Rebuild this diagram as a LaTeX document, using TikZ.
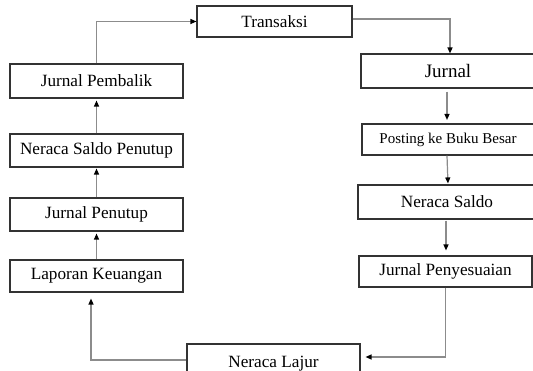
\documentclass[tikz,border=0pt]{standalone}
\usepackage{fontspec}
\setmainfont{Liberation Serif}
\usetikzlibrary{arrows.meta}
\begin{document}
\begin{tikzpicture}[x=1pt,y=-1pt,
  box/.style={draw=black!80,line width=1.1pt,rectangle,inner sep=0pt,
    font=\fontsize{17.2}{20}\selectfont},
  conn/.style={draw=black!45,line width=1.2pt,
    -{Triangle[length=6pt,width=5pt,color=black]}},
]
\useasboundingbox (0,0) rectangle (533,371);
% left column
\node[box,minimum width=173pt,minimum height=34pt] (jpb) at (96.5,81) {Jurnal Pembalik};
\node[box,minimum width=173pt,minimum height=33pt] (nsp) at (96.5,150.5) {Neraca Saldo Penutup};
\node[box,minimum width=173pt,minimum height=33pt] (jpt) at (96.5,214.5) {Jurnal Penutup};
\node[box,minimum width=173pt,minimum height=32pt] (lk) at (96.5,276) {Laporan Keuangan};
% top
\node[box,minimum width=155pt,minimum height=31pt] (tr) at (274.5,21.5) {Transaksi};
% right column
\node[box,minimum width=174pt,minimum height=34pt,font=\fontsize{19}{22}\selectfont] (jur) at (448,71) {Jurnal};
\node[box,minimum width=172pt,minimum height=31pt,font=\fontsize{15}{18}\selectfont] (pbb) at (448,139.5) {Posting ke Buku Besar};
\node[box,minimum width=178pt,minimum height=34pt] (ns) at (447,202) {Neraca Saldo};
\node[box,minimum width=173pt,minimum height=31pt] (jps) at (445.5,271.5) {Jurnal Penyesuaian};
% bottom
\node[box,minimum width=173pt,minimum height=40pt] (nl) at (273.5,364) {Neraca Lajur};
% connectors
\draw[conn] (jpb.north) |- (tr.west);
\draw[conn] ([yshift=2.5pt]tr.east) -| ([xshift=2pt]jur.north);
\draw[conn,shorten <=3pt,shorten >=3.5pt] ([xshift=-1pt]jur.south) -- ([xshift=-1pt]pbb.north);
\draw[conn,shorten >=1pt] ([xshift=-1pt]pbb.south) -- (pbb.south |- ns.north);
\draw[conn,shorten <=1pt,shorten >=5pt] ([xshift=-1pt]ns.south) -- ([xshift=-1pt]ns.south |- jps.north);
\draw[conn,shorten >=5pt] (jps.south) |- ([yshift=7pt]nl.east);
\draw[conn,shorten >=6pt] ([yshift=4pt]nl.west) -| ([xshift=-5.5pt]lk.south);
\draw[conn,shorten >=2pt] (lk.north) -- (jpt.south);
\draw[conn,shorten >=1pt] (jpt.north) -- (nsp.south);
\draw[conn,shorten >=2pt] (nsp.north) -- (jpb.south);
\end{tikzpicture}
\end{document}
